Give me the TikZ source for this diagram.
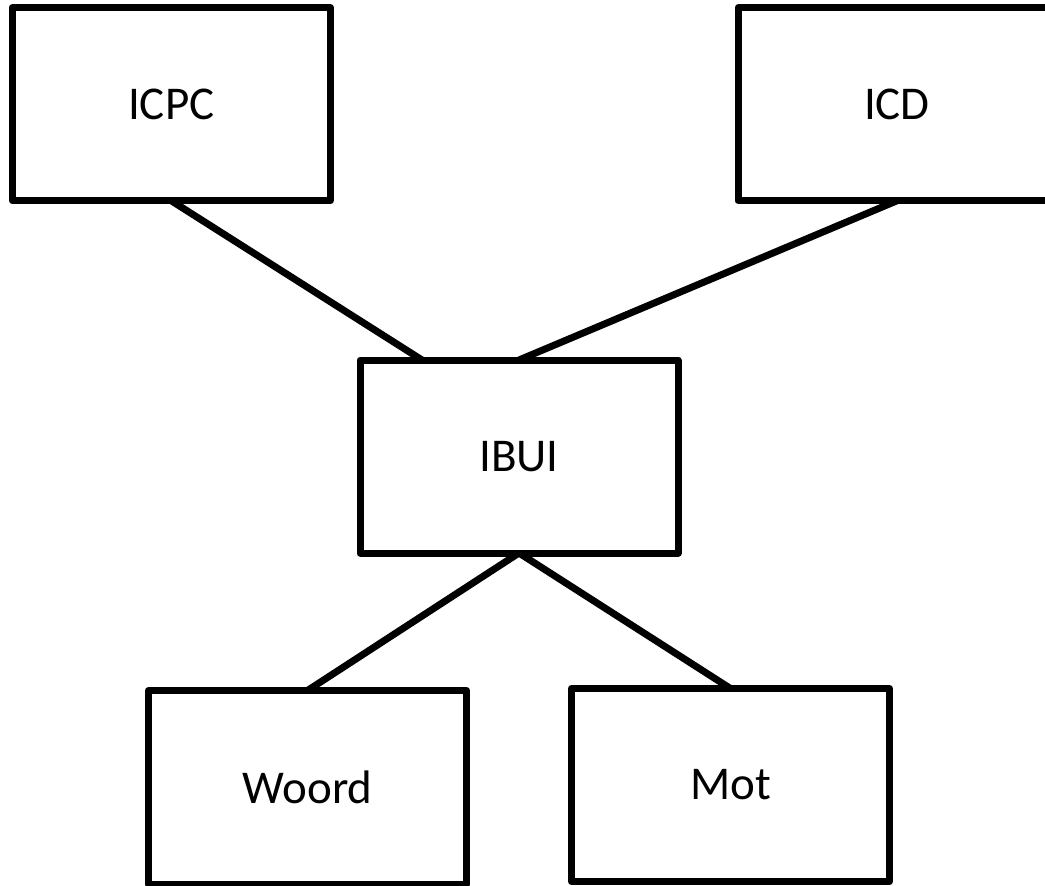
\documentclass[tikz,border=0pt]{standalone}
\usepackage{fontspec}
\setmainfont{Carlito}
\usetikzlibrary{calc}
\begin{document}
\begin{tikzpicture}[x=1pt,y=-1pt,
  box/.style={draw=black, line width=7pt, line join=round, fill=white,
    minimum width=318pt, minimum height=193pt, inner sep=0pt, outer sep=0pt,
    font=\fontsize{47}{56}\selectfont},
  link/.style={draw=black, line width=7pt}]
  \clip (0,0) rectangle (1045,886);
  \fill[white] (0,0) rectangle (1045,886);

  % boxes
  \node[box] (icpc)  at (171.25,104.25) {ICPC};
  \node[box] (icd)   at (897,104.25)    {ICD};
  \node[box] (ibui)  at (519,456.5)     {IBUI};
  \node[box, minimum height=194pt] (woord) at (307.5,787.5) {Woord};
  \node[box] (mot)   at (730.5,785)     {Mot};

  % connectors
  \coordinate (ibuiL) at ($(ibui.north west)!0.195!(ibui.north east)$);
  \draw[link] (icpc.south) -- (ibuiL);
  \draw[link] (icd.south) -- (ibui.north);
  \draw[link] (ibui.south) -- (woord.north);
  \draw[link] (ibui.south) -- (mot.north);
\end{tikzpicture}
\end{document}
